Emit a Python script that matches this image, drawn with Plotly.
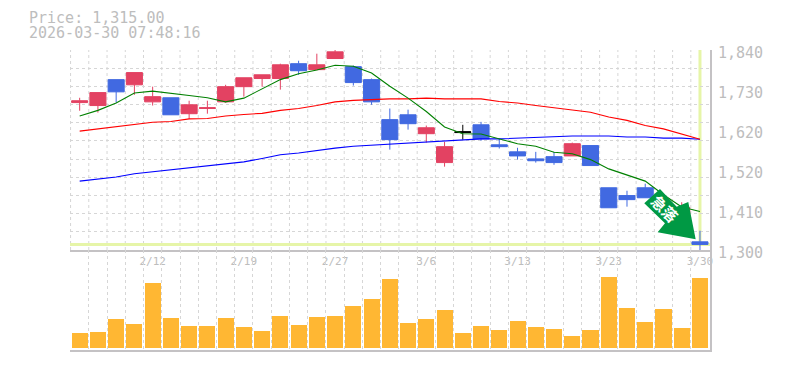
import plotly.graph_objects as go
from plotly.subplots import make_subplots

# index, OHLC
red_idx = [0,1,3,4,6,7,8,9,10,11,13,14,19,20,27,33]
red_open = [1698,1690,1746,1700,1668,1682,1700,1741,1763,1763,1787,1817,1614,1536,1554,1380]
red_high = [1711,1725,1779,1741,1703,1703,1746,1765,1773,1803,1830,1840,1636,1592,1590,1429]
red_low = [1676,1671,1719,1690,1654,1668,1698,1714,1741,1733,1787,1817,1590,1525,1554,1370]
red_close = [1703,1725,1779,1714,1692,1684,1741,1765,1773,1800,1800,1835,1630,1579,1587,1415]

blue_idx = [2,5,12,15,16,17,18,22,23,24,25,26,28,29,30,31,32,34]
blue_open = [1760,1711,1803,1795,1760,1652,1665,1638,1584,1565,1546,1552,1582,1468,1447,1468,1426,1322]
blue_high = [1760,1711,1811,1798,1763,1682,1679,1646,1600,1576,1565,1565,1582,1468,1460,1479,1426,1352]
blue_low = [1698,1665,1773,1744,1692,1571,1625,1595,1574,1544,1536,1530,1528,1414,1417,1441,1395,1300]
blue_close = [1727,1665,1784,1752,1700,1598,1641,1600,1579,1554,1541,1536,1528,1414,1436,1441,1405,1315]

doji_idx = [21]
doji_open = [1617]
doji_high = [1638]
doji_low = [1598]
doji_close = [1619]

ma_short = [1662,1677,1697,1724,1729,1722,1717,1711,1700,1710,1736,1760,1776,1786,1799,1796,1778,1742,1710,1674,1632,1614,1613,1600,1587,1580,1564,1560,1544,1519,1503,1486,1449,1416,1404]
ma_mid = [1621,1627,1633,1641,1645,1647,1654,1655,1662,1666,1669,1677,1682,1690,1700,1704,1707,1708,1708,1710,1708,1708,1708,1701,1697,1690,1683,1678,1672,1659,1650,1636,1627,1613,1599]
ma_long = [1486,1492,1497,1506,1511,1517,1522,1526,1533,1538,1547,1557,1562,1569,1575,1580,1583,1586,1589,1591,1595,1598,1600,1600,1602,1605,1605,1608,1608,1608,1605,1605,1602,1602,1599]
volume = [15,16,29,24,65,30,22,22,30,21,17,32,23,31,32,42,49,69,25,29,38,15,22,18,27,21,19,12,18,71,40,26,39,20,70]

date_ticks = [4,9,14,19,24,29,34]
date_labels = ["2/12","2/19","2/27","3/6","3/13","3/23","3/30"]
price_ticks = [1840,1732,1624,1516,1408,1300]
price_labels = ["1,840","1,730","1,620","1,520","1,410","1,300"]
last_price = 1315.00
stamp = "2026-03-30 07:48:16"
badge = "急落"

GRID = "#d6d6d6"
AXIS = "#c4c2c4"
TEXT = "#bdbdbd"
RED = "#e34262"
BLUE = "#4169e1"
MARK = "#e6f5a8"
MONO = "DejaVu Sans Mono"
xrange = [-0.53, 34.55]

fig = make_subplots(rows=2, cols=1, shared_xaxes=False, vertical_spacing=0, row_heights=[2, 1])

def candles(x, o, h, l, c, color):
    return go.Candlestick(
        x=x, open=o, high=h, low=l, close=c, hoverinfo="skip",
        increasing=dict(line=dict(color=color, width=1), fillcolor=color),
        decreasing=dict(line=dict(color=color, width=1), fillcolor=color),
    )

fig.add_trace(candles(red_idx, red_open, red_high, red_low, red_close, RED), row=1, col=1)
fig.add_trace(candles(blue_idx, blue_open, blue_high, blue_low, blue_close, BLUE), row=1, col=1)
fig.add_trace(candles(doji_idx, doji_open, doji_high, doji_low, doji_close, "#000000"), row=1, col=1)

days = list(range(len(volume)))
for vals, col in ((ma_long, "#0000ff"), (ma_mid, "#ff0000"), (ma_short, "#008000")):
    fig.add_trace(go.Scatter(x=days, y=vals, mode="lines", line=dict(color=col, width=1.1)), row=1, col=1)

fig.add_trace(go.Bar(x=days, y=volume, width=0.88, marker=dict(color="#ffb733", line=dict(width=0))), row=2, col=1)

fig.update_layout(
    width=777, height=362, autosize=False,
    margin=dict(l=62, r=75, t=42, b=20),
    paper_bgcolor="white", plot_bgcolor="white",
    showlegend=False, boxgap=0.12, boxgroupgap=0,
    font=dict(family=MONO, color=TEXT, size=15),
    bargap=0,
)

fig.update_xaxes(
    range=xrange, tick0=-0.5, dtick=1, showgrid=True, gridcolor=GRID, gridwidth=1,
    griddash="3px,3px", zeroline=False, showline=True, linecolor=AXIS, linewidth=2,
    rangeslider=dict(visible=False), ticks="",
)
fig.update_xaxes(
    tickmode="array", tickvals=date_ticks, ticktext=date_labels,
    tickfont=dict(family=MONO, size=11, color=TEXT), showticklabels=True,
    showgrid=False, row=1, col=1,
)
fig.update_xaxes(showticklabels=False, row=2, col=1)

fig.update_yaxes(
    side="right", zeroline=False, showticklabels=False, ticks="",
    showline=True, linecolor=AXIS, linewidth=2,
)
fig.update_yaxes(range=[1300, 1840], tick0=1300, dtick=540 / 11, showgrid=True,
                 gridcolor=GRID, griddash="3px,3px", row=1, col=1)
fig.update_yaxes(range=[-2, 98], showgrid=False, row=2, col=1)

# vertical grid for the price pane (tick labels there sit on candles, grid on boundaries)
for i in range(len(volume)):
    fig.add_shape(type="line", x0=i - 0.5, x1=i - 0.5, y0=1300, y1=1840, xref="x", yref="y",
                  line=dict(color=GRID, width=1, dash="3px,3px"), layer="below")

# last-price marker lines
fig.add_shape(type="line", x0=xrange[0], x1=xrange[1], y0=last_price, y1=last_price, xref="x", yref="y",
              line=dict(color=MARK, width=3), layer="below")
fig.add_shape(type="line", x0=days[-1], x1=days[-1], y0=last_price, y1=1840, xref="x", yref="y",
              line=dict(color=MARK, width=3), layer="below")

# badge arrow anchored at last close
fig.add_shape(type="path", xref="x", yref="y", xsizemode="pixel", ysizemode="pixel",
              xanchor=days[-1], yanchor=last_price,
              path="M -4.3 5.1 L -42.3 12.1 L -35 21.1 L -55.7 41.1 L -40 55.4 L -23.3 37.7 L -11.7 42.4 Z",
              fillcolor="#009944", line=dict(width=0), layer="above")

annotations = []
for v, t in zip(price_ticks, price_labels):
    annotations.append(dict(x=1, xref="paper", y=v, yref="y", text=t, showarrow=False,
                            xanchor="left", yanchor="middle", xshift=6, yshift=-3,
                            font=dict(family=MONO, size=15, color=TEXT)))
annotations.append(dict(x=0, xref="paper", y=1, yref="paper", text=f"Price: {last_price:,.2f}",
                        showarrow=False, xanchor="left", yanchor="middle", xshift=-43, yshift=32,
                        font=dict(family=MONO, size=15, color=TEXT)))
annotations.append(dict(x=0, xref="paper", y=1, yref="paper", text=stamp,
                        showarrow=False, xanchor="left", yanchor="middle", xshift=-43, yshift=17,
                        font=dict(family=MONO, size=15, color=TEXT)))
annotations.append(dict(x=days[-1], xref="x", y=last_price, yref="y", text="<b>" + badge + "</b>", showarrow=False,
                        textangle=45, xshift=-35, yshift=36,
                        font=dict(family="Noto Sans CJK JP", size=15, color="white")))
fig.update_layout(annotations=annotations)

fig.write_html("out.html")
